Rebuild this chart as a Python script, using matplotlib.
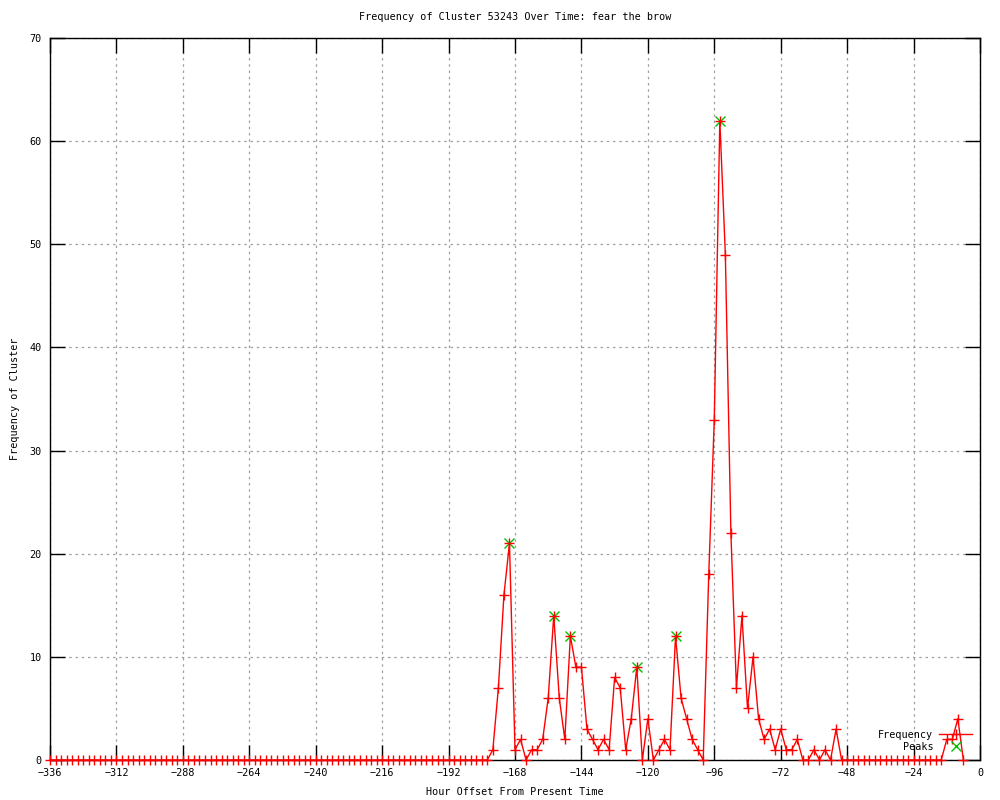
import matplotlib
matplotlib.use("Agg")
import matplotlib.pyplot as plt
import numpy as np

# ---- data ----
title = "Frequency of Cluster 53243 Over Time: fear the brow"
xlabel = "Hour Offset From Present Time"
ylabel = "Frequency of Cluster"

# hourly offsets, one sample every 2 hours from -336 to -6
hours = list(range(-336, -4, 2))

freq_early = [0] * 79  # -336 .. -180: all zero
freq_main = [0, 1, 7, 16, 21, 1, 2, 0, 1, 1,          # -178 .. -160
             2, 6, 14, 6, 2, 12, 9, 9, 3, 2,          # -158 .. -140
             1, 2, 1, 8, 7, 1, 4, 9, 0, 4,            # -138 .. -120
             0, 1, 2, 1, 12, 6, 4, 2, 1, 0,           # -118 .. -100
             18, 33, 62, 49, 22, 7, 14, 5, 10, 4,     # -98 .. -80
             2, 3, 1, 3, 1, 1, 2, 0, 0, 1,            # -78 .. -60
             0, 1, 0, 3, 0]                           # -58 .. -50
freq_late = [0] * 18 + [2, 2, 4, 0]                   # -48 .. -6
freq = freq_early + freq_main + freq_late

peak_hours = [-170, -154, -148, -124, -110, -94]
peak_vals = [21, 14, 12, 9, 12, 62]

xticks = list(range(-336, 1, 24))
yticks = list(range(0, 71, 10))

# ---- plot ----
plt.rcParams['font.family'] = ['DejaVu Sans Mono']
plt.rcParams['font.size'] = 7.3

fig = plt.figure(figsize=(10, 8), dpi=100)
ax = fig.add_axes([0.05, 0.05, 0.93, 0.9025])

ax.plot(hours, freq, color='#ff0000', linewidth=1.0, marker='+',
        markersize=7, markeredgewidth=1.0, label='Frequency', clip_on=False, zorder=3)
ax.plot(peak_hours, peak_vals, linestyle='none', color='#00c000', marker='x',
        markersize=6.5, markeredgewidth=1.0, label='Peaks', clip_on=False, zorder=2)

ax.set_xlim(-336, 0)
ax.set_ylim(0, 70)
ax.set_xticks(xticks)
ax.set_yticks(yticks)

ax.grid(True, color='#a0a0a0', linestyle=(0, (2, 3)), linewidth=0.9)
ax.set_axisbelow(True)

ax.tick_params(axis='both', direction='in', length=11, width=1,
               top=True, right=True, labelsize=7.3, color='black')
ax.tick_params(axis='x', pad=6)
ax.tick_params(axis='y', pad=6)
for s in ax.spines.values():
    s.set_linewidth(1.0)
    s.set_color('black')

ax.set_title(title, fontsize=7.3, pad=13)
ax.set_xlabel(xlabel, fontsize=7.3, labelpad=6)
ax.set_ylabel(ylabel, fontsize=7.3, labelpad=7)

leg = ax.legend(loc='lower right', frameon=False, markerfirst=False,
                handlelength=3.2, handletextpad=0.6, labelspacing=0.2,
                borderaxespad=0.4, fontsize=7.3)

fig.savefig("out.png", dpi=100)
